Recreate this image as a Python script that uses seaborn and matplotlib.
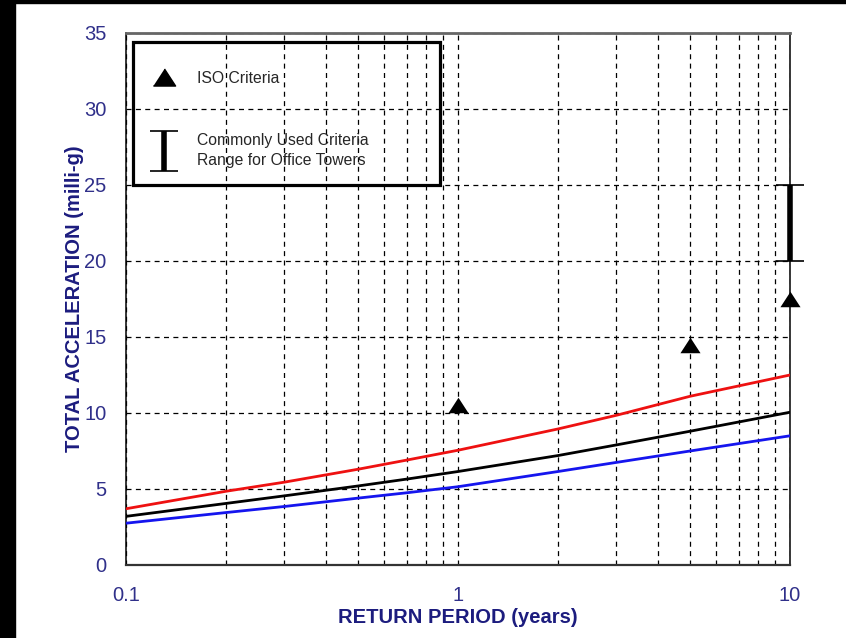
import numpy as np
import pandas as pd
import matplotlib
matplotlib.use("Agg")
import matplotlib.pyplot as plt
import seaborn as sns
from matplotlib.lines import Line2D
from matplotlib.patches import Rectangle
from matplotlib.container import ErrorbarContainer
from matplotlib.legend_handler import HandlerErrorbar
from matplotlib.ticker import NullFormatter

# return period (years) and total acceleration (milli-g)
period = [0.1, 0.2, 0.3, 0.5, 0.7, 1, 2, 3, 5, 10]
acc_upper = [3.7, 4.85, 5.45, 6.3, 6.9, 7.55, 8.95, 9.85, 11.1, 12.5]
acc_mid = [3.2, 4.05, 4.55, 5.2, 5.65, 6.15, 7.2, 7.9, 8.8, 10.05]
acc_lower = [2.75, 3.45, 3.85, 4.4, 4.75, 5.15, 6.15, 6.75, 7.5, 8.5]

# ISO criteria points
iso_period = [1, 5, 10]
iso_acc = [10.5, 14.5, 17.5]

# commonly used range for office towers
range_period = [10]
range_low = [20]
range_high = [25]

xtick_vals = [0.1, 1, 10]
xtick_labels = ["0.1", "1", "10"]
ytick_vals = [0, 5, 10, 15, 20, 25, 30, 35]

series_colors = {"upper": "#ee1111", "mid": "#000000", "lower": "#1515ee"}

df = pd.concat([
    pd.DataFrame({"period": period, "acc": acc_upper, "series": "upper"}),
    pd.DataFrame({"period": period, "acc": acc_mid, "series": "mid"}),
    pd.DataFrame({"period": period, "acc": acc_lower, "series": "lower"}),
])
iso_df = pd.DataFrame({"period": iso_period, "acc": iso_acc})

sns.set_style("white")
plt.rcParams["font.family"] = ["Liberation Sans", "DejaVu Sans"]

tick_col = "#30308a"
label_col = "#1c1c7e"
tri = [(-1.3, -1), (1.3, -1), (0, 1)]

fig = plt.figure(figsize=(8.46, 6.38), dpi=100)
fig.patch.set_facecolor("white")
# black scan border on left and top
fig.patches.append(Rectangle((0, 0), 15 / 846, 1, transform=fig.transFigure,
                             color="black", zorder=0))
fig.patches.append(Rectangle((0, 1 - 3 / 638), 1, 3 / 638, transform=fig.transFigure,
                             color="black", zorder=0))

ax = fig.add_axes([126 / 846, 1 - 565 / 638, 664 / 846, 532 / 638])
ax.set_xscale("log")

sns.lineplot(data=df, x="period", y="acc", hue="series", palette=series_colors,
             linewidth=2, legend=False, ax=ax, zorder=3)
sns.scatterplot(data=iso_df, x="period", y="acc", marker=tri, s=210, color="black",
                edgecolor="black", linewidth=0, ax=ax, zorder=4, clip_on=False)

mid_range = [(lo + hi) / 2 for lo, hi in zip(range_low, range_high)]
half_range = [(hi - lo) / 2 for lo, hi in zip(range_low, range_high)]
eb = ax.errorbar(range_period, mid_range, yerr=half_range, fmt="none", ecolor="black",
                 elinewidth=4, capsize=10, capthick=1.2, zorder=4)
for art in eb.lines[1] + eb.lines[2]:
    art.set_clip_on(False)

ax.set_xlim(0.1, 10)
ax.set_ylim(0, 35)
ax.set_xticks(xtick_vals)
ax.set_xticklabels(xtick_labels)
ax.xaxis.set_minor_formatter(NullFormatter())
ax.set_yticks(ytick_vals)

ax.grid(True, which="both", axis="x", color="black", linestyle=(0, (4, 3.5)), linewidth=0.9)
ax.grid(True, which="major", axis="y", color="black", linestyle=(0, (4, 3.5)), linewidth=0.9)

ax.tick_params(axis="x", which="major", direction="out", length=5, width=1,
               pad=10, labelsize=14.5, labelcolor=tick_col, color="black")
ax.tick_params(axis="x", which="minor", direction="out", length=3, width=1, color="black")
ax.tick_params(axis="y", direction="inout", length=12, width=1, pad=8,
               labelsize=14.5, labelcolor=tick_col, color="black")

for side in ["left", "right"]:
    ax.spines[side].set_color("black")
    ax.spines[side].set_linewidth(1.1)
ax.spines["top"].set_color("#666666")
ax.spines["top"].set_linewidth(2)
ax.spines["bottom"].set_color("#333333")
ax.spines["bottom"].set_linewidth(1.6)

ax.set_xlabel("RETURN PERIOD (years)", fontsize=14.5, fontweight="bold",
              color=label_col, labelpad=2)
ax.set_ylabel("TOTAL ACCELERATION (milli-g)", fontsize=14.5, fontweight="bold",
              color=label_col, labelpad=0)

# legend box
ax.add_patch(Rectangle((0.0105, 0.714), 0.4625, 0.269, transform=ax.transAxes,
                       fill=False, edgecolor="black", linewidth=2.3, zorder=5))
tri_handle = Line2D([], [], marker=tri, markersize=16, color="black", linestyle="none")
leg = ax.legend([tri_handle, eb],
                ["ISO Criteria", "Commonly Used Criteria\nRange for Office Towers"],
                loc="upper left", bbox_to_anchor=(0.0336, 0.929), frameon=False,
                fontsize=11.3, borderpad=0, borderaxespad=0, labelspacing=3.03,
                handletextpad=1.1, handlelength=2,
                handler_map={ErrorbarContainer: HandlerErrorbar(yerr_size=1.3)})
leg.get_texts()[1].set_linespacing(1.35)
leg.set_zorder(6)

fig.savefig("out.png", dpi=100, facecolor=fig.get_facecolor())
